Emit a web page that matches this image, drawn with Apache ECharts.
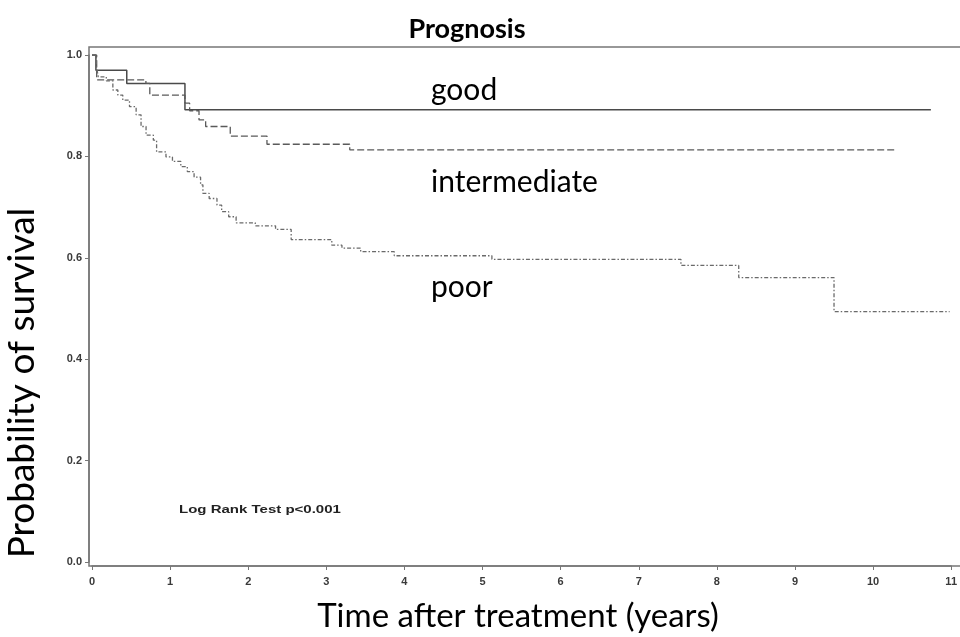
<!DOCTYPE html>
<html>
<head>
<meta charset="utf-8">
<script src="https://cdn.jsdelivr.net/npm/echarts@6/dist/echarts.min.js"></script>
<style>html,body{margin:0;padding:0;background:#fff}#c{width:960px;height:637px}</style>
</head>
<body>
<div id="c"></div>
<script>
// Kaplan-Meier curves (time in years, survival probability)
const goodT = [0, 0.05, 0.445, 1.19, 10.74];
const goodS = [1.0, 0.97, 0.944, 0.892, 0.892];

const intermediateT = [0, 0.06, 0.69, 0.74, 1.19, 1.25, 1.37, 1.455, 1.77, 2.24, 3.30, 10.30];
const intermediateS = [1.0, 0.951, 0.944, 0.921, 0.905, 0.89, 0.872, 0.859, 0.840, 0.824, 0.813, 0.813];

const poorT = [0, 0.056, 0.081, 0.183, 0.267, 0.331, 0.394, 0.48, 0.565, 0.628, 0.692, 0.785, 0.827, 0.947, 1.03, 1.137, 1.22, 1.307, 1.39, 1.42, 1.50, 1.60, 1.66, 1.75, 1.845, 2.09, 2.35, 2.55, 3.07, 3.20, 3.44, 3.87, 5.12, 7.54, 8.28, 9.50, 10.98];
const poorS = [1.0, 0.977, 0.957, 0.949, 0.931, 0.921, 0.911, 0.898, 0.882, 0.859, 0.842, 0.832, 0.809, 0.799, 0.790, 0.780, 0.770, 0.759, 0.744, 0.727, 0.717, 0.704, 0.691, 0.681, 0.669, 0.663, 0.656, 0.636, 0.625, 0.619, 0.612, 0.604, 0.597, 0.585, 0.561, 0.494, 0.494];

const xTicks = [0, 1, 2, 3, 4, 5, 6, 7, 8, 9, 10, 11];
const yTicks = [0.0, 0.2, 0.4, 0.6, 0.8, 1.0];

const groupNames = ['good', 'intermediate', 'poor'];
const titleText = 'Prognosis';
const xName = 'Time after treatment (years)';
const yName = 'Probability of survival';
const testText = 'Log Rank Test p<0.001';

function pairs(ts, ss) { return ts.map((t, i) => [t, ss[i]]); }

const chart = echarts.init(document.getElementById('c'), null, {renderer: 'canvas'});
const tickFont = {fontFamily: 'Liberation Sans, Arial, sans-serif', fontSize: 11, fontWeight: 'bold', color: '#3a3a3a'};

chart.setOption({
  animation: false,
  backgroundColor: '#ffffff',
  grid: {left: 92, right: 3, top: 55, bottom: 75, containLabel: false},
  xAxis: [{
    type: 'value', min: xTicks[0], max: xTicks[xTicks.length - 1], interval: 1,
    offset: 4,
    axisLine: {show: true, onZero: false, lineStyle: {color: '#777', width: 1.5}},
    axisTick: {show: true, length: 4, lineStyle: {color: '#777', width: 1}},
    axisLabel: Object.assign({margin: 10}, tickFont),
    splitLine: {show: false}
  }],
  yAxis: [{
    type: 'value', min: yTicks[0], max: yTicks[yTicks.length - 1], interval: 0.2,
    offset: 3,
    axisLine: {show: true, onZero: false, lineStyle: {color: '#777', width: 1.5}},
    axisTick: {show: true, length: 4, lineStyle: {color: '#777', width: 1}},
    axisLabel: Object.assign({margin: 7, formatter: v => v.toFixed(1)}, tickFont),
    splitLine: {show: false}
  }],
  series: [
    {name: groupNames[0], type: 'line', step: 'end', symbol: 'none', data: pairs(goodT, goodS),
     lineStyle: {color: '#4a4a4a', width: 1.5, type: 'solid'}},
    {name: groupNames[1], type: 'line', step: 'end', symbol: 'none', data: pairs(intermediateT, intermediateS),
     lineStyle: {color: '#5a5a5a', width: 1.3, type: [7, 3]}},
    {name: groupNames[2], type: 'line', step: 'end', symbol: 'none', data: pairs(poorT, poorS),
     lineStyle: {color: '#6a6a6a', width: 1.3, type: [4, 2, 1.5, 2]}}
  ],
  graphic: [
    {type: 'rect', silent: true, z: 0, shape: {x: 89, y: 47, width: 880, height: 519},
     style: {fill: 'none', stroke: '#777', lineWidth: 1.5}},
    {type: 'text', x: 467, y: 29, style: {text: titleText, fontFamily: 'Lato', fontWeight: 'bold', fontSize: 27, fill: '#000', textAlign: 'center', textVerticalAlign: 'middle'}},
    {type: 'text', x: 518, y: 616, style: {text: xName, fontFamily: 'Lato', fontSize: 33, fill: '#000', textAlign: 'center', textVerticalAlign: 'middle'}},
    {type: 'text', x: 22, y: 383, rotation: Math.PI / 2, style: {text: yName, fontFamily: 'Lato', fontSize: 37, fill: '#000', textAlign: 'center', textVerticalAlign: 'middle'}},
    {type: 'text', x: 431, y: 90, style: {text: groupNames[0], fontFamily: 'Lato', fontSize: 30, fill: '#000', textAlign: 'left', textVerticalAlign: 'middle'}},
    {type: 'text', x: 431, y: 182, style: {text: groupNames[1], fontFamily: 'Lato', fontSize: 30, fill: '#000', textAlign: 'left', textVerticalAlign: 'middle'}},
    {type: 'text', x: 431, y: 287, style: {text: groupNames[2], fontFamily: 'Lato', fontSize: 30, fill: '#000', textAlign: 'left', textVerticalAlign: 'middle'}},
    {type: 'text', x: 179, y: 510, scaleX: 1.5, style: {text: testText, fontFamily: 'Liberation Sans', fontWeight: 'bold', fontSize: 10, fill: '#222', textAlign: 'left', textVerticalAlign: 'middle'}}
  ]
});
</script>
</body>
</html>
